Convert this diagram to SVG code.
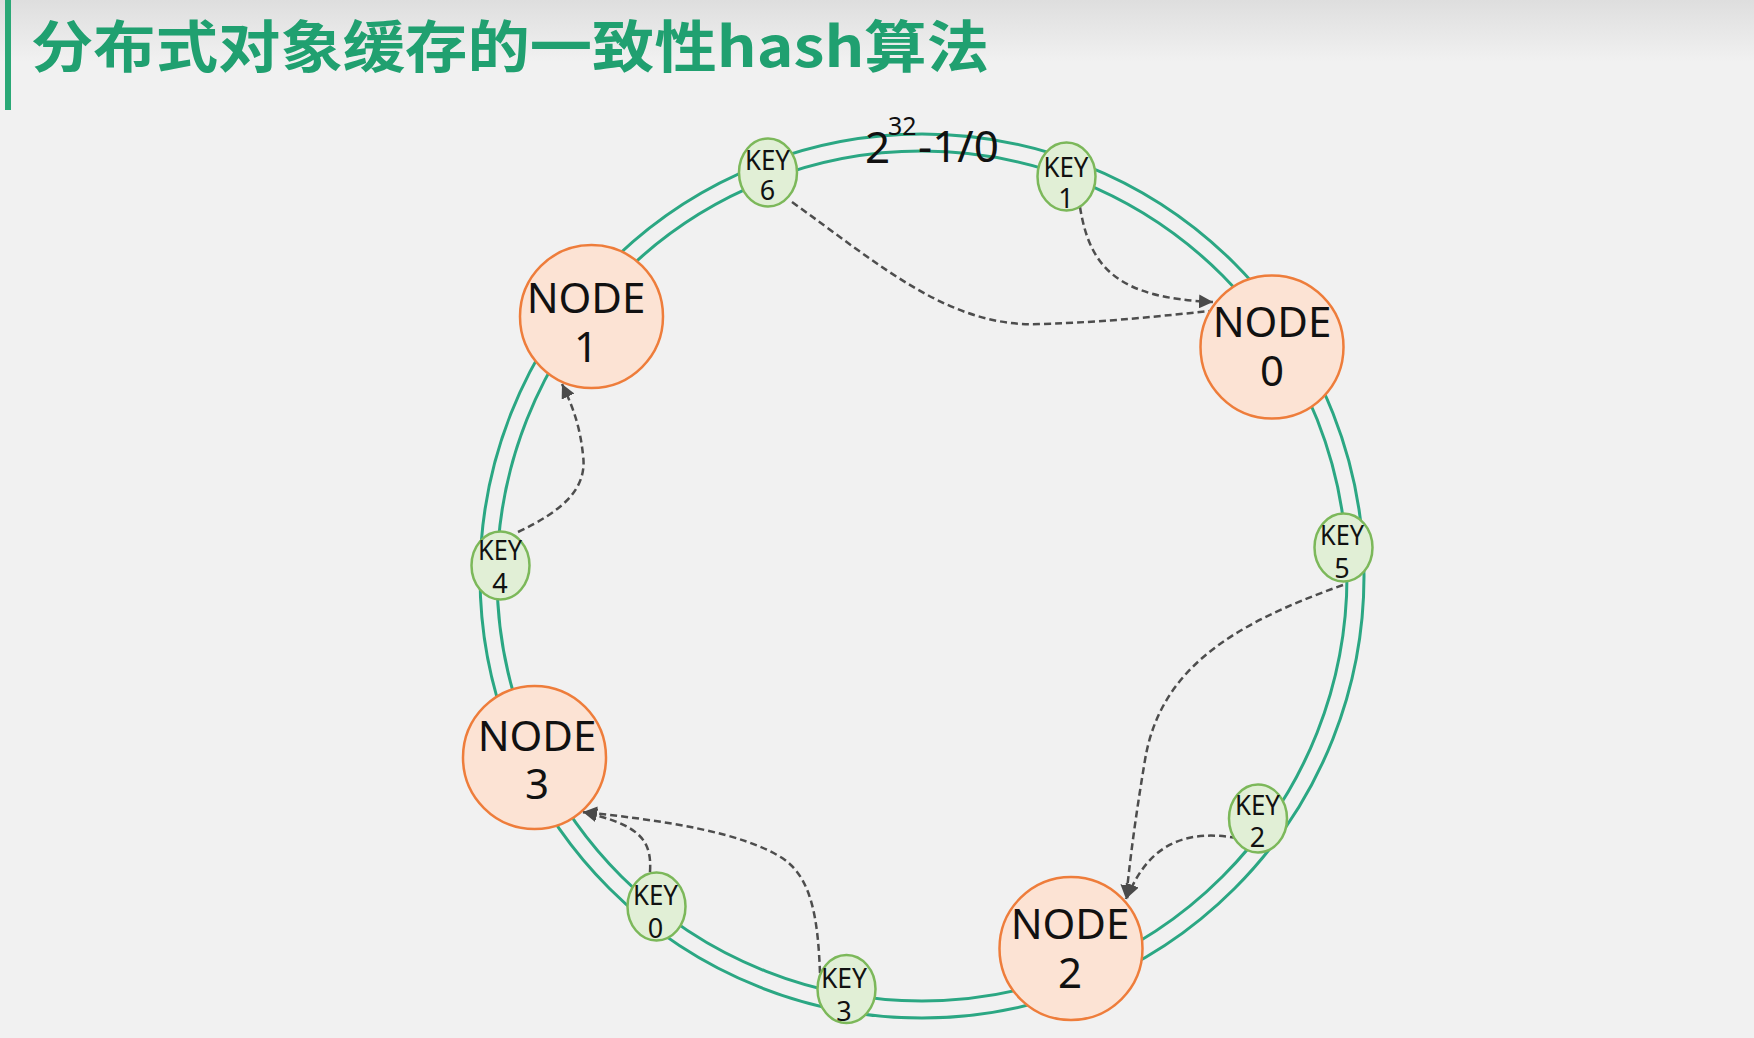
<svg xmlns="http://www.w3.org/2000/svg" width="1754" height="1038" viewBox="0 0 1754 1038">
  <defs>
    <linearGradient id="topfade" x1="0" y1="0" x2="0" y2="1">
      <stop offset="0" stop-color="#dedede"/>
      <stop offset="1" stop-color="#f1f1f1"/>
    </linearGradient>
    <marker id="arrow" markerUnits="userSpaceOnUse" markerWidth="16" markerHeight="14" refX="14" refY="7" orient="auto">
      <path d="M0,0 L14,7 L0,14 Z" fill="#4a4a4a"/>
    </marker>
    <style>
      .ring { fill: none; stroke: #2ba783; stroke-width: 3; }
      .node { fill: #fce3d4; stroke: #ee7d3b; stroke-width: 2.5; }
      .key { fill: #e1efd6; stroke: #7cb85a; stroke-width: 2.5; }
      .ntxt { font-family: "Noto Sans", "Open Sans", sans-serif; font-size: 42px; fill: #111; text-anchor: middle; }
      .ktxt { font-family: "Noto Sans", "Open Sans", sans-serif; font-size: 27px; fill: #111; text-anchor: middle; }
      .conn { fill: none; stroke: #4d4d4d; stroke-width: 2.5; stroke-dasharray: 7 4; }
      .lbl { font-family: "Noto Sans", "Open Sans", sans-serif; fill: #111; }
    </style>
  </defs>

  <rect x="0" y="0" width="1754" height="1038" fill="#f1f1f1"/>
  <rect x="0" y="0" width="1754" height="62" fill="url(#topfade)"/>

  <g id="title">
    <rect x="5" y="0" width="6" height="110" fill="#2aa876"/>
    <text x="31" y="67" font-family="Noto Sans CJK SC, sans-serif" font-size="56" font-weight="bold" fill="#20a070" textLength="958" lengthAdjust="spacingAndGlyphs">分布式对象缓存的一致性hash算法</text>
  </g>

  <g id="ring">
    <circle class="ring" cx="922" cy="576" r="442"/>
    <circle class="ring" cx="922" cy="576" r="425"/>
  </g>

  <g id="ring-label">
    <text class="lbl" x="865" y="163" font-size="44">2</text>
    <text class="lbl" x="888" y="135" font-size="25">32</text>
    <text class="lbl" x="918" y="162" font-size="44">-1/0</text>
  </g>

  <g id="connectors">
    <path class="conn" d="M792,202 C880,265 950,328 1040,324 C1110,322 1160,316 1210,311"/>
    <path class="conn" d="M1080,207 C1090,270 1120,298 1213,302" marker-end="url(#arrow)"/>
    <path class="conn" d="M518,532 C560,512 588,490 583,455 C580,425 572,405 562,384" marker-end="url(#arrow)"/>
    <path class="conn" d="M650,872 C652,840 640,825 583,812" marker-end="url(#arrow)"/>
    <path class="conn" d="M820,973 C818,920 812,880 785,860 C745,832 660,820 583,812" marker-end="url(#arrow)"/>
    <path class="conn" d="M1343,585 C1230,625 1160,670 1145,760 C1135,820 1130,860 1126,899" marker-end="url(#arrow)"/>
    <path class="conn" d="M1237,838 C1190,830 1150,840 1127,898" marker-end="url(#arrow)"/>
  </g>

  <g id="node1">
    <circle class="node" cx="591.5" cy="316.5" r="71.5"/>
    <text class="ntxt" x="586" y="313">NODE</text>
    <text class="ntxt" x="586" y="362">1</text>
  </g>
  <g id="node0">
    <circle class="node" cx="1272" cy="347" r="71.5"/>
    <text class="ntxt" x="1272" y="337">NODE</text>
    <text class="ntxt" x="1272" y="386">0</text>
  </g>
  <g id="node3">
    <circle class="node" cx="534.5" cy="757.5" r="71.5"/>
    <text class="ntxt" x="537" y="751">NODE</text>
    <text class="ntxt" x="537" y="799">3</text>
  </g>
  <g id="node2">
    <circle class="node" cx="1071" cy="948.5" r="71.5"/>
    <text class="ntxt" x="1070" y="939">NODE</text>
    <text class="ntxt" x="1070" y="988">2</text>
  </g>

  <g id="key6">
    <ellipse class="key" cx="768" cy="172.5" rx="29" ry="34"/>
    <text class="ktxt" x="767.5" y="170" textLength="45" lengthAdjust="spacingAndGlyphs">KEY</text>
    <text class="ktxt" x="767.5" y="200">6</text>
  </g>
  <g id="key1">
    <ellipse class="key" cx="1066.5" cy="176.5" rx="29" ry="34"/>
    <text class="ktxt" x="1066" y="176.5" textLength="45" lengthAdjust="spacingAndGlyphs">KEY</text>
    <text class="ktxt" x="1066" y="208">1</text>
  </g>
  <g id="key5">
    <ellipse class="key" cx="1343.5" cy="547.5" rx="29" ry="34"/>
    <text class="ktxt" x="1342" y="545" textLength="44" lengthAdjust="spacingAndGlyphs">KEY</text>
    <text class="ktxt" x="1342" y="578">5</text>
  </g>
  <g id="key2">
    <ellipse class="key" cx="1258" cy="818.5" rx="29" ry="34"/>
    <text class="ktxt" x="1257.5" y="815" textLength="45" lengthAdjust="spacingAndGlyphs">KEY</text>
    <text class="ktxt" x="1257.5" y="847">2</text>
  </g>
  <g id="key3">
    <ellipse class="key" cx="846.5" cy="989" rx="29" ry="34"/>
    <text class="ktxt" x="844" y="988" textLength="46" lengthAdjust="spacingAndGlyphs">KEY</text>
    <text class="ktxt" x="844" y="1020.5">3</text>
  </g>
  <g id="key0">
    <ellipse class="key" cx="656.5" cy="906.5" rx="29" ry="34"/>
    <text class="ktxt" x="655.5" y="905" textLength="45" lengthAdjust="spacingAndGlyphs">KEY</text>
    <text class="ktxt" x="655.5" y="938">0</text>
  </g>
  <g id="key4">
    <ellipse class="key" cx="500.5" cy="565.5" rx="29" ry="34"/>
    <text class="ktxt" x="500" y="560" textLength="44" lengthAdjust="spacingAndGlyphs">KEY</text>
    <text class="ktxt" x="500" y="593">4</text>
  </g>
</svg>
